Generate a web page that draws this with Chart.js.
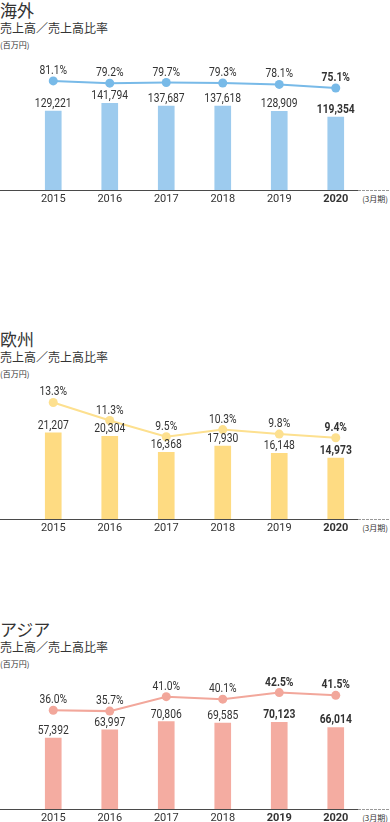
<!DOCTYPE html>
<html>
<head>
<meta charset="utf-8">
<script src="https://cdn.jsdelivr.net/npm/chart.js@4.4.1/dist/chart.umd.min.js"></script>
<style>
  body { margin: 0; background: #fff; }
  #page { position: relative; width: 390px; height: 822px; overflow: hidden; font-family: "Noto Sans CJK JP", sans-serif; color: #333; }
  .t { position: absolute; left: 0; white-space: nowrap; }
  .title { font-size: 17px; line-height: 17px; }
  .sub { font-size: 12px; line-height: 12px; }
  .unit { font-size: 8px; line-height: 8px; }
  .fy { font-size: 8px; line-height: 8px; right: 2px; left: auto; }
  canvas { position: absolute; left: 0; }
</style>
</head>
<body>
<div id="page"></div>
<script>
var years = ["2015", "2016", "2017", "2018", "2019", "2020"];

var overseasSales = [129221, 141794, 137687, 137618, 128909, 119354];
var overseasRatio = [81.1, 79.2, 79.7, 79.3, 78.1, 75.1];

var europeSales = [21207, 20304, 16368, 17930, 16148, 14973];
var europeRatio = [13.3, 11.3, 9.5, 10.3, 9.8, 9.4];

var asiaSales = [57392, 63997, 70806, 69585, 70123, 66014];
var asiaRatio = [36.0, 35.7, 41.0, 40.1, 42.5, 41.5];

var numFont = 'Roboto, sans-serif';

// labels over bars and points, plus the baseline
var labelPlugin = {
  id: 'valueLabels',
  afterDatasetsDraw: function(chart) {
    var ctx = chart.ctx;
    var bold = chart.options.plugins.valueLabels.bold;
    var axisY = chart.chartArea.bottom + 0.5;
    ctx.save();
    ctx.strokeStyle = '#4a4a4a';
    ctx.lineWidth = 1;
    ctx.beginPath();
    ctx.moveTo(0, axisY);
    ctx.lineTo(chart.chartArea.right - 6, axisY);
    ctx.stroke();
    ctx.strokeStyle = '#999';
    ctx.setLineDash([3, 1]);
    ctx.beginPath();
    ctx.moveTo(chart.chartArea.right - 6, axisY);
    ctx.lineTo(chart.width, axisY);
    ctx.stroke();
    ctx.restore();

    chart.data.datasets.forEach(function(ds, di) {
      var meta = chart.getDatasetMeta(di);
      meta.data.forEach(function(el, i) {
        var v = ds.data[i];
        var txt = ds.type === 'line' ? v.toFixed(1) + '%' : v.toLocaleString('en-US');
        var off = ds.type === 'line' ? 10 : 7;
        ctx.save();
        ctx.translate(el.x, el.y - off);
        ctx.scale(0.86, 1);
        ctx.font = (bold.indexOf(i) >= 0 ? 'bold ' : '') + '12px ' + numFont;
        ctx.fillStyle = '#333';
        ctx.textAlign = 'center';
        ctx.textBaseline = 'middle';
        ctx.fillText(txt, 0, 0);
        ctx.restore();
      });
    });
  }
};

function addText(cls, text, top) {
  var d = document.createElement('div');
  d.className = 't ' + cls;
  d.textContent = text;
  d.style.top = top + 'px';
  document.getElementById('page').appendChild(d);
}

function block(offset, title, sales, ratio, barColor, lineColor, barMax, rMin, rMax, bold) {
  addText('title', title, offset + 1);
  addText('sub', '売上高／売上高比率', offset + 22);
  addText('unit', '(百万円)', offset + 41);
  addText('fy', '(3月期)', offset + 195);

  var cv = document.createElement('canvas');
  cv.width = 390;
  cv.height = 160;
  cv.style.top = (offset + 50) + 'px';
  document.getElementById('page').appendChild(cv);

  new Chart(cv.getContext('2d'), {
    type: 'bar',
    data: {
      labels: years,
      datasets: [{
        type: 'line',
        data: ratio,
        yAxisID: 'y1',
        borderColor: lineColor,
        backgroundColor: lineColor,
        borderWidth: 2,
        pointRadius: 4.5,
        pointBorderWidth: 0,
        pointBackgroundColor: lineColor,
        order: 0
      }, {
        type: 'bar',
        data: sales,
        yAxisID: 'y',
        backgroundColor: barColor,
        barThickness: 16,
        order: 1
      }]
    },
    options: {
      responsive: false,
      animation: false,
      layout: { padding: { left: 25, right: 26, top: 0, bottom: 0 } },
      plugins: {
        legend: { display: false },
        tooltip: { enabled: false },
        valueLabels: { bold: bold }
      },
      scales: {
        x: {
          grid: { display: false, drawTicks: false },
          border: { display: false },
          afterFit: function(s) { s.height = 20; },
          ticks: {
            padding: 3,
            color: '#333',
            font: function(c) {
              return { family: numFont, size: 11, weight: bold.indexOf(c.index) >= 0 ? 'bold' : 'normal' };
            }
          }
        },
        y: { display: false, min: 0, max: barMax },
        y1: { display: false, min: rMin, max: rMax }
      }
    },
    plugins: [labelPlugin]
  });
}

block(0, '海外', overseasSales, overseasRatio, '#9dcbee', '#78bae8', 222000, -11.1, 103.4, [5]);
block(329, '欧州', europeSales, europeRatio, '#fedb82', '#fde08f', 33300, 0.4, 15.4, [5]);
block(619, 'アジア', asiaSales, asiaRatio, '#f4aca1', '#f2a79b', 109700, -0.2, 49.5, [4, 5]);
</script>
</body>
</html>
